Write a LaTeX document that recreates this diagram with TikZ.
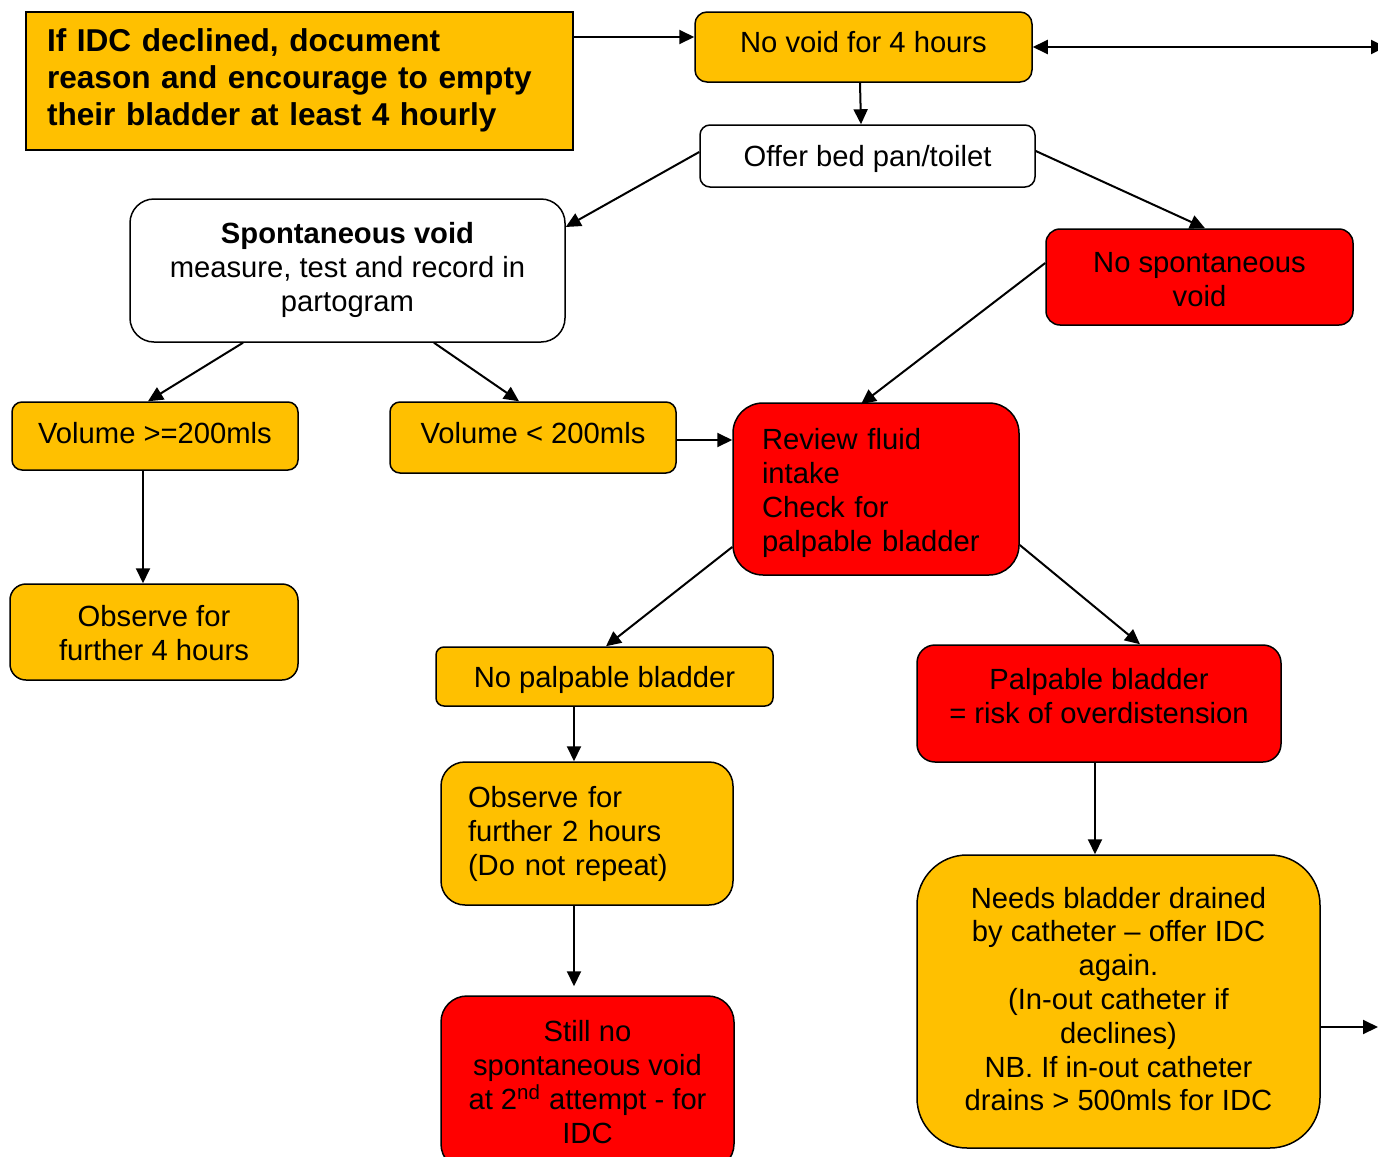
\documentclass[tikz,border=0pt]{standalone}
\usepackage{fontspec}
\setmainfont{Liberation Sans}
\usetikzlibrary{arrows.meta}
\definecolor{org}{HTML}{FFC000}
\definecolor{rd}{HTML}{FF0000}
\tikzset{
  bx/.style={draw=black, line width=0.75pt, inner sep=0pt},
  ob/.style={bx, fill=org},
  rb/.style={bx, fill=rd},
  wb/.style={bx, fill=white},
  tx/.style={inner sep=0pt, align=center, font=\fontsize{14.6}{17}\selectfont},
  arr/.style={line width=1pt, -{Triangle[length=7.5pt,width=7pt]}},
}
\begin{document}
\begin{tikzpicture}[x=0.5pt,y=-0.5pt]
\clip (0,0) rectangle (1378,1157);
\fill[white] (0,0) rectangle (1378,1157);

% boxes
\node[ob, minimum width=273.5pt, minimum height=69pt] (idc) at (299.5,81) {};
\node[ob, rounded corners=6pt, minimum width=168.5pt, minimum height=35pt] (novoid) at (863.5,47) {};
\node[wb, rounded corners=5pt, minimum width=167.5pt, minimum height=31pt] (offer) at (867.5,156) {};
\node[wb, rounded corners=12pt, minimum width=217.5pt, minimum height=71.5pt] (spont) at (347.5,270.5) {};
\node[rb, rounded corners=7pt, minimum width=153.5pt, minimum height=48pt] (nospont) at (1199.5,277) {};
\node[ob, rounded corners=5pt, minimum width=143pt, minimum height=34pt] (vol1) at (155,436) {};
\node[ob, rounded corners=5pt, minimum width=143pt, minimum height=35.5pt] (vol2) at (533,437.5) {};
\node[rb, rounded corners=15pt, minimum width=143pt, minimum height=86pt] (review) at (876,489) {};
\node[ob, rounded corners=8pt, minimum width=144pt, minimum height=48pt] (obs4) at (154,632) {};
\node[ob, rounded corners=4pt, minimum width=168.5pt, minimum height=29.5pt] (nopalp) at (604.5,676.5) {};
\node[rb, rounded corners=9pt, minimum width=182pt, minimum height=58.5pt] (palp) at (1099,703.5) {};
\node[ob, rounded corners=12pt, minimum width=146pt, minimum height=71.5pt] (obs2) at (587,833.5) {};
\node[ob, rounded corners=25pt, minimum width=201.5pt, minimum height=146.5pt] (needs) at (1118.5,1001.5) {};
\node[rb, rounded corners=13pt, minimum width=146.5pt, minimum height=87pt] (still) at (587.5,1083) {};

% texts
\node[tx, text width=252.5pt, align=left, font=\fontsize{15.8}{18.5}\selectfont\bfseries] (idcT) at ([yshift=0.5pt]idc.center)
  {If IDC declined, document\\reason and encourage to empty\\their bladder at least 4 hourly};
\node[tx] (novoidT) at ([yshift=2.5pt]novoid.center) {No void for 4 hours};
\node[tx] (offerT) at ([yshift=-1.5pt]offer.center) {Offer bed pan/toilet};
\node[tx] (spontT) at ([yshift=0.25pt]spont.center) {\textbf{Spontaneous void}\\measure, test and record in\\partogram};
\node[tx] (nospontT) at ([yshift=-1.25pt]nospont.center) {No spontaneous\\void};
\node[tx] (vol1T) at ([yshift=1.5pt]vol1.center) {Volume >=200mls};
\node[tx] (vol2T) at ([yshift=2pt]vol2.center) {Volume < 200mls};
\node[tx, text width=114pt, align=left] (reviewT) at ([yshift=-1.75pt]review.center) {Review fluid\\intake\\Check for\\palpable bladder};
\node[tx] (obs4T) at ([yshift=-0.5pt]obs4.center) {Observe for\\further 4 hours};
\node[tx] (nopalpT) at ([yshift=-1.5pt]nopalp.center) {No palpable bladder};
\node[tx] (palpT) at ([yshift=3.5pt]palp.center) {Palpable bladder\\= risk of overdistension};
\node[tx, text width=119pt, align=left] (obs2T) at (obs2.center) {Observe for\\further 2 hours\\(Do not repeat)};
\node[tx, font=\fontsize{14.6}{16.9}\selectfont] (needsT) at ([yshift=1.25pt]needs.center)
  {Needs bladder drained\\by catheter -- offer IDC\\again.\\(In-out catheter if\\declines)\\NB. If in-out catheter\\drains > 500mls for IDC};
\node[tx] (stillT) at ([yshift=0.25pt]still.center)
  {Still no\\spontaneous void\\at 2\textsuperscript{nd} attempt - for\\IDC};

\coordinate (edgeA) at (1386,47);
\coordinate (edgeB) at (1378,1027);

% connectors
\draw[arr] ([yshift=22pt]idc.east) -- ([yshift=5pt]novoid.west);
\draw[arr] ([xshift=-1.75pt]novoid.south) -- ([xshift=-3.25pt]offer.north);
\draw[arr] ([yshift=2pt]offer.west) -- ([yshift=21.75pt]spont.east);
\draw[arr] ([yshift=2.5pt]offer.east) -- ([xshift=2.75pt]nospont.north);
\draw[arr] ([yshift=7pt]nospont.west) -- ([xshift=-7.5pt,yshift=-1pt]review.north);
\draw[arr] ([xshift=-52.25pt]spont.south) -- ([xshift=-3.5pt]vol1.north);
\draw[arr] ([xshift=43.25pt]spont.south) -- ([xshift=-7pt]vol2.north);
\draw[arr] ([yshift=-1.25pt]vol2.east) -- ([yshift=24.5pt]review.west);
\draw[arr] ([xshift=-6pt]vol1.south) -- ([xshift=-5.5pt]obs4.north);
\draw[arr] ([yshift=-29pt]review.west) -- ([xshift=0.75pt]nopalp.north);
\draw[arr] ([yshift=-28pt]review.east) -- ([xshift=20.5pt]palp.north);
\draw[arr] ([xshift=-15.25pt]nopalp.south) -- ([xshift=-6.5pt]obs2.north);
\draw[arr] ([xshift=-2pt]palp.south) -- ([xshift=-11.75pt]needs.north);
\draw[arr] ([xshift=-6.5pt]obs2.south) -- ([xshift=-6.75pt,yshift=4.5pt]still.north);
\draw[line width=1pt, {Triangle[length=7.5pt,width=7pt]}-{Triangle[length=7.5pt,width=7pt]}] (novoid.east) -- (edgeA);
\draw[arr] ([yshift=-12.75pt]needs.east) -- (edgeB);
\end{tikzpicture}
\end{document}
